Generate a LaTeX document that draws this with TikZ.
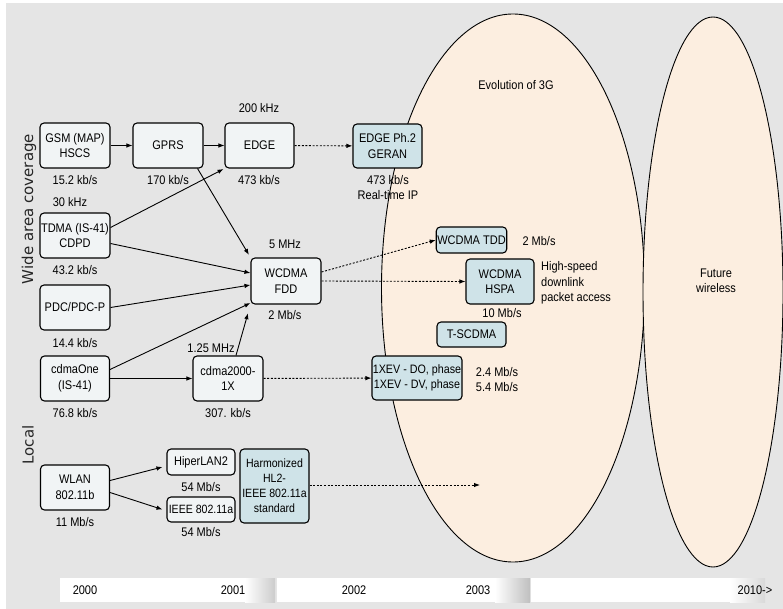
\documentclass[tikz,border=0pt]{standalone}
\usepackage{fontspec}
\setmainfont{Liberation Sans}[FakeStretch=0.88]
\newfontfamily\dejavu{DejaVu Sans}
\usetikzlibrary{arrows.meta,shapes.geometric,calc}
\definecolor{bgc}{RGB}{229,229,229}
\definecolor{peach}{RGB}{252,238,224}
\definecolor{lightbox}{RGB}{241,244,245}
\definecolor{bluebox}{RGB}{207,227,232}
\tikzset{
 box/.style={draw=black, line width=1.1pt, rounded corners=4pt, fill=lightbox, align=center, inner sep=1pt, font=\fontsize{12.5}{15.5}\selectfont},
 bbox/.style={box, fill=bluebox},
 lbl/.style={align=center, inner sep=0pt, font=\fontsize{12.5}{15.5}\selectfont},
 arr/.style={-{Latex[length=6pt,width=4.5pt]}, line width=0.9pt},
 darr/.style={arr, dash pattern=on 2pt off 1.6pt},
 ell/.style={draw=black, line width=0.9pt, fill=peach},
 yearlbl/.style={inner sep=0pt, font=\fontsize{12.5}{14}\selectfont},
 sidelbl/.style={rotate=90, inner sep=0pt, text=black!85, font=\dejavu\fontsize{15}{18}\selectfont},
}
\begin{document}
\begin{tikzpicture}[x=1pt,y=-1pt]
\useasboundingbox (0,0) rectangle (783,609);
\fill[white] (0,0) rectangle (783,609);
\fill[bgc] (6,3) rectangle (783,609);
% ellipses
\draw[ell] (513,288) ellipse [x radius=131.5, y radius=274];
\draw[ell] (713,292) ellipse [x radius=70, y radius=275];
% timeline
\fill[white] (60,578) rectangle (246,602);
\shade[left color=white, right color=black!20] (245,578) rectangle (275,602);
\fill[white] (277,578) rectangle (496,602);
\shade[left color=white, right color=black!25] (495,578) rectangle (530,602);
\fill[white] (531,578) rectangle (731,602);
\shade[left color=white, right color=black!15] (730,578) rectangle (765,602);
\node[yearlbl] (y0) at (85,590) {2000};
\node[yearlbl] (y1) at (233,590) {2001};
\node[yearlbl] (y2) at (354,590) {2002};
\node[yearlbl] (y3) at (478,590) {2003};
\node[yearlbl] (y4) at (755,590) {2010->};
% side labels
\node[sidelbl] (wac) at (29,209) {Wide area coverage};
\node[sidelbl] (loc) at (28,445) {Local};
% boxes
\node[box, minimum width=70, minimum height=45] (gsm) at (75,145.5) {GSM (MAP)\\HSCS};
\node[box, minimum width=70, minimum height=45] (gprs) at (168,145.5) {GPRS};
\node[box, minimum width=69, minimum height=45] (edge) at (259.5,145.5) {EDGE};
\node[bbox, minimum width=69, minimum height=44] (edge2) at (387.5,146) {EDGE Ph.2\\GERAN};
\node[box, minimum width=70, minimum height=45, inner sep=0pt] (tdma) at (75,235.5) {TDMA (IS-41)\\CDPD};
\node[box, minimum width=70, minimum height=45] (pdc) at (75,307.5) {PDC/PDC-P};
\node[box, minimum width=70, minimum height=46] (wcdma) at (286,281) {WCDMA\\FDD};
\node[bbox, minimum width=69, minimum height=26] (wtdd) at (471.5,240) {WCDMA TDD};
\node[bbox, minimum width=68, minimum height=45] (hspa) at (500,281.5) {WCDMA\\HSPA};
\node[bbox, minimum width=69, minimum height=25] (tscdma) at (471.5,334.5) {T-SCDMA};
\node[bbox, minimum width=90, minimum height=44, inner sep=0pt, font=\fontsize{12.2}{15}\selectfont] (xev) at (417,378) {1XEV - DO, phase\\1XEV - DV, phase};
\node[box, minimum width=69, minimum height=45] (cdmaone) at (75,378.5) {cdmaOne\\(IS-41)};
\node[box, minimum width=70, minimum height=45] (cdma2k) at (228,378.5) {cdma2000-\\1X};
\node[box, minimum width=69, minimum height=45] (wlan) at (75,487.5) {WLAN\\802.11b};
\node[box, minimum width=68, minimum height=26] (hiper) at (201,462) {HiperLAN2};
\node[box, minimum width=68, minimum height=25, inner sep=0pt, font=\fontsize{12}{15}\selectfont] (ieee) at (201,509.5) {IEEE 802.11a};
\node[bbox, minimum width=69, minimum height=74, inner sep=0pt, font=\fontsize{12}{15}\selectfont] (harm) at (274.5,486) {Harmonized\\HL2-\\IEEE 802.11a\\standard};
% labels
\node[lbl] (l200k) at (259,108) {200 kHz};
\node[lbl] (l152) at (75,180) {15.2 kb/s};
\node[lbl] (l170) at (168,180) {170 kb/s};
\node[lbl] (l473) at (259,180) {473 kb/s};
\node[lbl] (l30k) at (70,202) {30 kHz};
\node[lbl] (l432) at (75,270) {43.2 kb/s};
\node[lbl] (l5m) at (285,244) {5 MHz};
\node[lbl] (l2m) at (285,315) {2 Mb/s};
\node[lbl] (l144) at (75,343) {14.4 kb/s};
\node[lbl] (l125) at (211,348) {1.25 MHz};
\node[lbl] (l768) at (75,413) {76.8 kb/s};
\node[lbl] (l307) at (228,413) {307. kb/s};
\node[lbl] (lrt) at (388,187.5) {473 kb/s\\Real-time IP};
\node[lbl] (levo) at (516,85) {Evolution of 3G};
\node[lbl] (l2mt) at (539,241) {2 Mb/s};
\node[lbl, align=left, anchor=west] (lhs) at (541,283) {High-speed\\downlink\\packet access};
\node[lbl] (l10m) at (502,313) {10 Mb/s};
\node[lbl] (l24) at (497,379.5) {2.4 Mb/s\\5.4 Mb/s};
\node[lbl] (lfut) at (716,281) {Future\\wireless};
\node[lbl] (l11) at (75,522) {11 Mb/s};
\node[lbl] (l54a) at (201,487) {54 Mb/s};
\node[lbl] (l54b) at (201,532) {54 Mb/s};
% solid arrows
\draw[arr] (gsm) -- (gprs);
\draw[arr] (gprs) -- (edge);
\draw[arr, shorten >=3pt] ([xshift=-6pt]gprs.south east) -- (wcdma.north west);
\draw[arr, shorten >=1pt] ([yshift=8pt]tdma.east) -- (edge.south west);
\draw[arr] ([yshift=-8pt]tdma.east) -- ([yshift=8pt]wcdma.west);
\draw[arr] (pdc.east) -- ([yshift=-4pt]wcdma.west);
\draw[arr] ([yshift=9pt]cdmaone.east) -- ([yshift=-22pt]wcdma.west);
\draw[arr] (cdmaone) -- (cdma2k);
\draw[arr, shorten >=9pt] ([xshift=8pt]cdma2k.north) -- (wcdma.south west);
\draw[arr] ([yshift=7pt]wlan.east) -- ([xshift=-4pt,yshift=-5pt]hiper.west);
\draw[arr] ([yshift=-5pt]wlan.east) -- ([xshift=-4pt]ieee.west);
% dotted arrows
\coordinate (hend) at (480,485);
\draw[darr] (edge) -- (edge2);
\draw[darr] ([yshift=9pt]wcdma.east) -- (wtdd.west);
\draw[darr] (wcdma.east) -- (hspa.west);
\draw[darr] (cdma2k) -- (xev);
\draw[darr] (harm.east |- hend) -- (hend);
\end{tikzpicture}
\end{document}
